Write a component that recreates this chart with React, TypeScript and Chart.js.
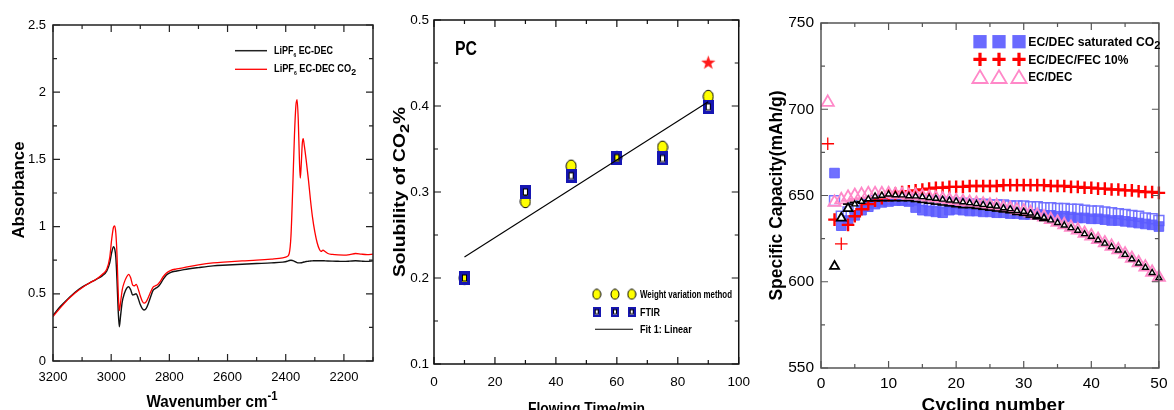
import React, { useEffect, useRef } from "react";
import { Chart, registerables } from "chart.js";

Chart.register(...registerables);

// ---------------- Panel 1: FTIR spectra ----------------
const irWavenumbers = [
  3200, 3175, 3150, 3125, 3100, 3075, 3050, 3030, 3015, 3005, 2998, 2992, 2988, 2984, 2980, 2976,
  2972, 2968, 2962, 2955, 2947, 2940, 2933, 2926, 2920, 2914, 2907, 2900, 2893, 2887, 2880, 2872,
  2864, 2856, 2848, 2840, 2832, 2822, 2810, 2795, 2775, 2750, 2700, 2650, 2600, 2550, 2500, 2450,
  2410, 2395, 2388, 2382, 2376, 2370, 2365, 2361, 2357, 2353, 2350, 2347, 2343, 2340, 2336, 2330,
  2322, 2315, 2308, 2300, 2292, 2284, 2278, 2272, 2265, 2255, 2240, 2220, 2200, 2180, 2160, 2140,
  2120, 2100,
];
const irAbsBase = [
  0.34, 0.405, 0.46, 0.51, 0.55, 0.58, 0.61, 0.635, 0.67, 0.73, 0.81, 0.85, 0.835, 0.77, 0.6, 0.38,
  0.255, 0.33, 0.44, 0.5, 0.54, 0.552, 0.53, 0.49, 0.495, 0.5, 0.465, 0.42, 0.39, 0.38, 0.39, 0.43,
  0.48, 0.525, 0.54, 0.55, 0.57, 0.605, 0.64, 0.66, 0.67, 0.68, 0.695, 0.708, 0.714, 0.72, 0.725, 0.73,
  0.736, 0.742, 0.748, 0.75, 0.747, 0.742, 0.736, 0.732, 0.73, 0.73, 0.73, 0.731, 0.733, 0.735, 0.737, 0.74,
  0.742, 0.744, 0.745, 0.746, 0.746, 0.746, 0.746, 0.746, 0.745, 0.744, 0.743, 0.742, 0.741, 0.743, 0.746, 0.743,
  0.741, 0.745,
];
const irAbsCO2 = [
  0.33, 0.395, 0.455, 0.505, 0.545, 0.58, 0.61, 0.645, 0.685, 0.77, 0.91, 0.995, 1.005, 0.95, 0.79, 0.52,
  0.375, 0.43, 0.53, 0.585, 0.625, 0.645, 0.62, 0.565, 0.56, 0.57, 0.535, 0.485, 0.445, 0.43, 0.44, 0.475,
  0.515, 0.55, 0.56, 0.57, 0.59, 0.625, 0.655, 0.675, 0.685, 0.695, 0.715, 0.73, 0.738, 0.745, 0.75, 0.758,
  0.768, 0.778, 0.8, 0.93, 1.28, 1.68, 1.9, 1.945, 1.8, 1.5, 1.36, 1.45, 1.62, 1.655, 1.6, 1.5,
  1.35, 1.2, 1.07, 0.96, 0.88, 0.83, 0.815, 0.825, 0.815, 0.8, 0.793, 0.789, 0.788, 0.792, 0.8, 0.795,
  0.792, 0.795,
];
const irXTicks = [3200, 3000, 2800, 2600, 2400, 2200];
const irXMinorTicks = [3100, 2900, 2700, 2500, 2300, 2100];
const irYTicks = [0, 0.5, 1, 1.5, 2, 2.5];
const irYMinorTicks = [0.25, 0.75, 1.25, 1.75, 2.25];

// ---------------- Panel 2: CO2 solubility in PC ----------------
const flowTimes = [10, 30, 45, 60, 75, 90];
const weightMethod = [0.2, 0.289, 0.33, 0.34, 0.352, 0.411];
const ftirValues = [0.2, 0.3, 0.319, 0.34, 0.339, 0.399];
const fitTimes = [10, 90];
const fitValues = [0.2245, 0.405];
const starTimes = [90];
const starValues = [0.451];
const flowXTicks = [0, 20, 40, 60, 80, 100];
const flowXMinorTicks = [10, 30, 50, 70, 90];
const flowYTicks = [0.1, 0.2, 0.3, 0.4, 0.5];
const flowYMinorTicks = [0.15, 0.25, 0.35, 0.45];

// ---------------- Panel 3: cycling ----------------
const cycles = [
  1, 2, 3, 4, 5, 6, 7, 8, 9, 10, 11, 12, 13, 14, 15, 16, 17, 18, 19, 20, 21, 22, 23, 24, 25,
  26, 27, 28, 29, 30, 31, 32, 33, 34, 35, 36, 37, 38, 39, 40, 41, 42, 43, 44, 45, 46, 47, 48, 49, 50,
];
const co2Filled = [
  null, 663, 632.5, 635.5, 638.5, 641.5, 643.5, 645, 646, 646.5, 647, 647, 646.5, 643, 641.5, 641, 640.5, 640, 641.5, 642,
  641.5, 641, 641, 640.5, 640.5, 640, 640, 639.5, 639.5, 639, 639, 639, 638.5, 638.5, 638, 638, 637.5, 637, 637, 636.5,
  636.5, 636, 635.5, 635.5, 635, 634.5, 634, 633.5, 633, 632,
];
const co2Open = [
  null, 647, 638, 640.5, 643, 645, 646, 647, 647.5, 648, 648, 648, 647.5, 647.5, 647, 646.5, 646.5, 646, 646, 645.5,
  645.5, 645, 645, 645, 644.5, 644.5, 644.5, 644, 644, 644, 643.5, 643.5, 643, 643, 642.5, 642.5, 642, 642, 641.5, 641,
  641, 640.5, 640, 639.5, 639, 638.5, 638, 637, 636.5, 635.5,
];
const fec10 = [
  680, 636, 622, 633, 638, 642, 645, 647, 648.5, 650, 651, 652, 652.5, 653, 653.5, 654, 654.5, 654.5, 655, 655,
  655, 655.5, 655.5, 655.5, 655.5, 655.5, 656, 656, 656, 656, 656, 656, 656, 655.5, 655.5, 655.5, 655, 655, 654.5, 654.5,
  654, 654, 653.5, 653.5, 653, 653, 652.5, 652, 652, 651.5,
];
const ecdec = [
  704, 646, 647.5, 649, 650, 650.5, 651, 651, 651, 651, 650.5, 650.5, 650, 650, 649.5, 649, 648.5, 648, 647.5, 647,
  646.5, 646, 645.5, 645, 644.5, 644, 643, 642.5, 641.5, 641, 640, 638.5, 637.5, 636, 634.5, 633, 631.5, 630, 628, 626.5,
  624.5, 622.5, 620.5, 618.5, 616, 613.5, 611, 608.5, 605.5, 602.5,
];
const ecdecRun2 = [
  null, 609, 637, 642.5, 645, 646.5, 648, 649.5, 650, 650.7, 650.3, 650.2, 649.7, 649.6, 649.2, 648.7, 648.2, 647.7, 647.2, 646.7,
  646.2, 645.7, 645.2, 644.7, 644.2, 643.7, 642.7, 642.2, 641.2, 640.7, 639.7, 638.2, 637.2, 635.7, 634.2, 632.7, 631.2, 629.7, 627.7, 626.2,
  624.2, 622.2, 620.2, 618.2, 615.7, 613.2, 610.7, 608.2, 605.2, 602.2,
];
const ecdecRun3 = [
  null, null, null, 645, 646, 646.5, 647, 647, 647, 647, 647, 647, 647, 646.5, 646, 645.5, 645, 644.5, 644, 643.5,
  643, 643, 642.5, 642, 641.5, 641, 640.5, 640, 639, 638.5, 637.5, 636.5, 635.5, null, null, null, null, null, null, null,
  null, null, null, null, null, null, null, null, null, null,
];
const cycXTicks = [0, 10, 20, 30, 40, 50];
const cycXMinorTicks = [5, 15, 25, 35, 45];
const cycYTicks = [550, 600, 650, 700, 750];
const cycYMinorTicks = [575, 625, 675, 725];

// ---------------- helpers ----------------
const SANS = '"Liberation Sans", Arial, Helvetica, sans-serif';

function fontAvailable(name: string): boolean {
  const c = document.createElement("canvas").getContext("2d")!;
  const s = "abcdefghijklmnopqrstuvwxyz0123456789";
  c.font = "20px monospace";
  const a = c.measureText(s).width;
  c.font = `20px "${name}", monospace`;
  const b = c.measureText(s).width;
  return a !== b;
}

type Part = { t: string; sub?: boolean; sup?: boolean; k?: number };

function drawRich(
  ctx: CanvasRenderingContext2D,
  parts: Part[],
  x: number,
  y: number,
  o: { size: number; bold?: boolean; width?: number; rotate?: boolean; align?: "left" | "center"; color?: string }
) {
  const fontOf = (p: Part) =>
    `${o.bold ? "bold " : ""}${(p.k ?? (p.sub || p.sup ? 0.7 : 1)) * o.size}px ${SANS}`;
  ctx.save();
  let total = 0;
  for (const p of parts) {
    ctx.font = fontOf(p);
    total += ctx.measureText(p.t).width;
  }
  const sx = o.width ? o.width / total : 1;
  ctx.translate(x, y);
  if (o.rotate) ctx.rotate(-Math.PI / 2);
  ctx.scale(sx, 1);
  let cx = (o.align ?? "center") === "center" ? -total / 2 : 0;
  ctx.fillStyle = o.color || "#000";
  ctx.textBaseline = "alphabetic";
  ctx.textAlign = "left";
  for (const p of parts) {
    ctx.font = fontOf(p);
    const dy = p.sub ? o.size * 0.25 : p.sup ? -o.size * 0.42 : 0;
    ctx.fillText(p.t, cx, dy);
    cx += ctx.measureText(p.t).width;
  }
  ctx.restore();
}

function makeEllipse(w: number, h: number) {
  const c = document.createElement("canvas");
  c.width = Math.ceil(w + 2);
  c.height = Math.ceil(h + 2);
  const g = c.getContext("2d")!;
  g.beginPath();
  g.ellipse(c.width / 2, c.height / 2, w / 2, h / 2, 0, 0, Math.PI * 2);
  g.fillStyle = "#ffff00";
  g.fill();
  g.lineWidth = 1;
  g.strokeStyle = "#000";
  g.stroke();
  return c;
}

const FTIR_BLUE = "#1616b2";
function makeFtir(w: number, h: number, tx: number, ty: number) {
  const c = document.createElement("canvas");
  c.width = w;
  c.height = h;
  const g = c.getContext("2d")!;
  g.fillStyle = FTIR_BLUE;
  g.fillRect(0, 0, w, h);
  g.clearRect(tx, ty, w - 2 * tx, h - 2 * ty);
  g.strokeStyle = "#000";
  g.lineWidth = 1;
  g.strokeRect(tx + 0.5, ty + 0.5, w - 2 * tx - 1, h - 2 * ty - 1);
  return c;
}

function makeStar(R: number, color: string) {
  const c = document.createElement("canvas");
  const s = Math.ceil(R * 2 + 2);
  c.width = s;
  c.height = s;
  const g = c.getContext("2d")!;
  const cx = s / 2;
  const cy = s / 2 + R * 0.1;
  const r = R * 0.4;
  g.beginPath();
  for (let i = 0; i < 10; i++) {
    const rad = (Math.PI / 5) * i;
    const rr = i % 2 === 0 ? R : r;
    const px = cx + Math.sin(rad) * rr;
    const py = cy - Math.cos(rad) * rr;
    if (i === 0) g.moveTo(px, py);
    else g.lineTo(px, py);
  }
  g.closePath();
  g.fillStyle = color;
  g.fill();
  return c;
}

function pts(xs: number[], ys: (number | null)[]) {
  const out: { x: number; y: number }[] = [];
  xs.forEach((x, i) => {
    const y = ys[i];
    if (y !== null && y !== undefined) out.push({ x, y });
  });
  return out;
}

const fmt = (v: any) => String(Number(Number(v).toFixed(3)));

function decor(o: {
  frameColor: string;
  frameWidth: number;
  xMajor: number[];
  xMinor: number[];
  yMajor: number[];
  yMinor: number[];
  draw: (ctx: CanvasRenderingContext2D, chart: any) => void;
}) {
  return {
    id: "decor",
    afterDatasetsDraw(chart: any) {
      const { ctx, chartArea: a, scales } = chart;
      const xs = scales.x;
      const ys = scales.y;
      ctx.save();
      ctx.strokeStyle = o.frameColor;
      ctx.lineWidth = 1.2;
      ctx.beginPath();
      const xAll = [...o.xMajor.map((v) => [v, 7]), ...o.xMinor.map((v) => [v, 4])];
      for (const [v, L] of xAll) {
        const p = xs.getPixelForValue(v);
        ctx.moveTo(p, a.bottom);
        ctx.lineTo(p, a.bottom - L);
        ctx.moveTo(p, a.top);
        ctx.lineTo(p, a.top + L);
      }
      const yAll = [...o.yMajor.map((v) => [v, 7]), ...o.yMinor.map((v) => [v, 4])];
      for (const [v, L] of yAll) {
        const p = ys.getPixelForValue(v);
        ctx.moveTo(a.left, p);
        ctx.lineTo(a.left + L, p);
        ctx.moveTo(a.right, p);
        ctx.lineTo(a.right - L, p);
      }
      ctx.stroke();
      ctx.lineWidth = o.frameWidth;
      ctx.strokeRect(a.left, a.top, a.right - a.left, a.bottom - a.top);
      ctx.restore();
      ctx.save();
      o.draw(ctx, chart);
      ctx.restore();
    },
  };
}

function axes(o: {
  xMin: number;
  xMax: number;
  yMin: number;
  yMax: number;
  xTicks: number[];
  yTicks: number[];
  reverse?: boolean;
  font: any;
  xPad: number;
  yPad: number;
  xHeight: number;
  yWidth: number;
}) {
  const common = {
    type: "linear",
    grid: { display: false, drawTicks: false },
    border: { display: false },
  };
  return {
    x: {
      ...common,
      min: o.xMin,
      max: o.xMax,
      reverse: !!o.reverse,
      afterBuildTicks: (s: any) => {
        s.ticks = o.xTicks.map((value) => ({ value }));
      },
      afterFit: (s: any) => {
        s.height = o.xHeight;
      },
      ticks: { font: o.font, color: "#000", padding: o.xPad, callback: fmt, maxRotation: 0, autoSkip: false },
    },
    y: {
      ...common,
      min: o.yMin,
      max: o.yMax,
      afterBuildTicks: (s: any) => {
        s.ticks = o.yTicks.map((value) => ({ value }));
      },
      afterFit: (s: any) => {
        s.width = o.yWidth;
      },
      ticks: { font: o.font, color: "#000", padding: o.yPad, callback: fmt, autoSkip: false },
    },
  };
}

const baseOptions = {
  responsive: false,
  animation: false,
  events: [],
  devicePixelRatio: 1,
  plugins: { legend: { display: false }, tooltip: { enabled: false } },
};

// ---------------- chart builders ----------------
function buildIR(): any {
  return {
    type: "scatter",
    data: {
      datasets: [
        {
          data: pts(irWavenumbers, irAbsCO2),
          showLine: true,
          borderColor: "#ff0000",
          borderWidth: 1.3,
          pointRadius: 0,
          cubicInterpolationMode: "monotone",
        },
        {
          data: pts(irWavenumbers, irAbsBase),
          showLine: true,
          borderColor: "#111111",
          borderWidth: 1.4,
          pointRadius: 0,
          cubicInterpolationMode: "monotone",
        },
      ],
    },
    options: {
      ...baseOptions,
      layout: { padding: { left: 0, top: 25, right: 17, bottom: 0 } },
      scales: axes({
        xMin: 2100,
        xMax: 3200,
        yMin: 0,
        yMax: 2.5,
        xTicks: irXTicks,
        yTicks: irYTicks,
        reverse: true,
        font: { family: SANS, size: 13 },
        xPad: 9,
        yPad: 7,
        xHeight: 49,
        yWidth: 53,
      }),
    },
    plugins: [
      decor({
        frameColor: "#222",
        frameWidth: 1.5,
        xMajor: irXTicks,
        xMinor: irXMinorTicks,
        yMajor: irYTicks,
        yMinor: irYMinorTicks,
        draw: (ctx) => {
          drawRich(ctx, [{ t: "Absorbance" }], 24, 190, { size: 16, bold: true, rotate: true, width: 97 });
          drawRich(ctx, [{ t: "Wavenumber cm" }, { t: "-1", sup: true, k: 0.75 }], 212, 407, {
            size: 16,
            bold: true,
            width: 131,
          });
          ctx.lineWidth = 1.5;
          ctx.strokeStyle = "#222";
          ctx.beginPath();
          ctx.moveTo(235, 50.7);
          ctx.lineTo(267, 50.7);
          ctx.stroke();
          ctx.strokeStyle = "#ff0000";
          ctx.lineWidth = 1.3;
          ctx.beginPath();
          ctx.moveTo(235, 69.3);
          ctx.lineTo(267, 69.3);
          ctx.stroke();
          drawRich(ctx, [{ t: "LiPF" }, { t: "6", sub: true, k: 0.55 }, { t: " EC-DEC" }], 274, 54.3, {
            size: 10.5,
            bold: true,
            align: "left",
            width: 59,
          });
          drawRich(
            ctx,
            [{ t: "LiPF" }, { t: "6", sub: true, k: 0.55 }, { t: " EC-DEC CO" }, { t: "2", sub: true, k: 0.95 }],
            274,
            72.3,
            { size: 10.5, bold: true, align: "left", width: 82 }
          );
        },
      }),
    ],
  };
}

function buildSolubility(): any {
  const narrow = fontAvailable("Liberation Sans Narrow");
  const tickFont = narrow
    ? { family: '"Liberation Sans Narrow", "Liberation Sans", Arial, sans-serif', size: 14 }
    : { family: SANS, size: 13.5 };
  const ellData = makeEllipse(10, 12.5);
  const ellLeg = makeEllipse(8, 10);
  const ftirData = makeFtir(11, 14, 3, 3.5);
  const ftirLeg = makeFtir(8, 10, 2, 2.5);
  const star = makeStar(7.5, "#ff1a1a");
  return {
    type: "scatter",
    data: {
      datasets: [
        {
          data: pts(fitTimes, fitValues),
          showLine: true,
          borderColor: "#000",
          borderWidth: 1.1,
          pointRadius: 0,
        },
        { data: pts(starTimes, starValues), pointStyle: star, pointRadius: 8, clip: false },
        { data: pts(flowTimes, ftirValues), pointStyle: ftirData, pointRadius: 7, clip: false },
        { data: pts(flowTimes, weightMethod), pointStyle: ellData, pointRadius: 7, clip: false },
      ],
    },
    options: {
      ...baseOptions,
      layout: { padding: { left: 0, top: 20, right: 21, bottom: 0 } },
      scales: axes({
        xMin: 0,
        xMax: 100,
        yMin: 0.1,
        yMax: 0.5,
        xTicks: flowXTicks,
        yTicks: flowYTicks,
        font: tickFont,
        xPad: 10,
        yPad: 5,
        xHeight: 46,
        yWidth: 44,
      }),
    },
    plugins: [
      decor({
        frameColor: "#111",
        frameWidth: 1.5,
        xMajor: flowXTicks,
        xMinor: flowXMinorTicks,
        yMajor: flowYTicks,
        yMinor: flowYMinorTicks,
        draw: (ctx) => {
          drawRich(ctx, [{ t: "Solubility of CO" }, { t: "2", sub: true, k: 0.85 }, { t: "%" }], 14.5, 192, {
            size: 16,
            bold: true,
            rotate: true,
            width: 170,
          });
          drawRich(ctx, [{ t: "Flowing Time/min" }], 196.5, 414, { size: 17, bold: true, width: 117 });
          drawRich(ctx, [{ t: "PC" }], 65, 55, { size: 21, bold: true, align: "left", width: 22 });
          for (const cx of [206.7, 225, 241.7]) {
            ctx.drawImage(ellLeg, cx - ellLeg.width / 2, 294.3 - ellLeg.height / 2);
            ctx.drawImage(ftirLeg, cx - ftirLeg.width / 2, 311.7 - ftirLeg.height / 2);
          }
          drawRich(ctx, [{ t: "Weight variation method" }], 250, 298.4, {
            size: 11.5,
            bold: true,
            align: "left",
            width: 92,
          });
          drawRich(ctx, [{ t: "FTIR" }], 250, 315.8, { size: 11.5, bold: true, align: "left", width: 20 });
          ctx.strokeStyle = "#000";
          ctx.lineWidth = 1.1;
          ctx.beginPath();
          ctx.moveTo(205, 329.3);
          ctx.lineTo(243, 329.3);
          ctx.stroke();
          drawRich(ctx, [{ t: "Fit 1: Linear" }], 250, 333.4, { size: 11.5, bold: true, align: "left", width: 51.7 });
        },
      }),
    ],
  };
}

function buildCycling(): any {
  const BLUE_FILL = "rgba(92,92,255,0.88)";
  const BLUE_LINE = "rgba(110,110,255,0.95)";
  const PINK = "#ff88c8";
  return {
    type: "scatter",
    data: {
      datasets: [
        {
          data: pts(cycles, ecdecRun2),
          pointStyle: "triangle",
          pointRadius: (c: any) => (c.dataIndex < 3 ? 5.2 : 3.4),
          pointBorderWidth: (c: any) => (c.dataIndex < 3 ? 1.8 : 1.4),
          pointBorderColor: "#000",
          pointBackgroundColor: "#fff",
          clip: false,
        },
        {
          data: pts(cycles, ecdecRun3),
          pointStyle: "line",
          pointRadius: 5,
          pointBorderWidth: 1.6,
          pointBorderColor: "#000",
          clip: false,
        },
        {
          data: pts(cycles, ecdec),
          pointStyle: "triangle",
          pointRadius: 7,
          pointBorderWidth: 1.8,
          pointBorderColor: PINK,
          pointBackgroundColor: "rgba(0,0,0,0)",
          clip: false,
        },
        {
          data: pts(cycles, fec10),
          pointStyle: "cross",
          pointRadius: 6.3,
          pointBorderWidth: (c: any) => (c.dataIndex === 0 || c.dataIndex === 2 ? 1.3 : 2.4),
          pointBorderColor: "#ff0000",
          clip: false,
        },
        {
          data: pts(cycles, co2Filled),
          pointStyle: "rect",
          pointRadius: 6.8,
          pointBorderWidth: 1,
          pointBorderColor: BLUE_FILL,
          pointBackgroundColor: BLUE_FILL,
          clip: false,
        },
        {
          data: pts(cycles, co2Open),
          pointStyle: "rect",
          pointRadius: 7,
          pointBorderWidth: 1.5,
          pointBorderColor: BLUE_LINE,
          pointBackgroundColor: "rgba(0,0,0,0)",
          clip: false,
        },
      ],
    },
    options: {
      ...baseOptions,
      layout: { padding: { left: 0, top: 23, right: 9, bottom: 0 } },
      scales: axes({
        xMin: 0,
        xMax: 50,
        yMin: 550,
        yMax: 750,
        xTicks: cycXTicks,
        yTicks: cycYTicks,
        font: { family: SANS, size: 15.5 },
        xPad: 6.5,
        yPad: 7,
        xHeight: 42,
        yWidth: 61,
      }),
    },
    plugins: [
      decor({
        frameColor: "#555",
        frameWidth: 1.5,
        xMajor: cycXTicks,
        xMinor: cycXMinorTicks,
        yMajor: cycYTicks,
        yMinor: cycYMinorTicks,
        draw: (ctx) => {
          drawRich(ctx, [{ t: "Specific Capacity(mAh/g)" }], 22, 195.5, {
            size: 17.5,
            bold: true,
            rotate: true,
            width: 210,
          });
          drawRich(ctx, [{ t: "Cycling number" }], 233, 410.5, { size: 19, bold: true, width: 143 });
          const xs = [220, 239, 259];
          const rows = [41.7, 59.3, 76.7];
          for (const cx of xs) {
            ctx.fillStyle = "rgba(98,98,255,0.95)";
            ctx.fillRect(cx - 6.65, rows[0] - 6.65, 13.3, 13.3);
            ctx.strokeStyle = "#ff0000";
            ctx.lineWidth = 3.2;
            ctx.beginPath();
            ctx.moveTo(cx - 6.6, rows[1]);
            ctx.lineTo(cx + 6.6, rows[1]);
            ctx.moveTo(cx, rows[1] - 6.6);
            ctx.lineTo(cx, rows[1] + 6.6);
            ctx.stroke();
            ctx.strokeStyle = PINK;
            ctx.lineWidth = 1.8;
            ctx.beginPath();
            ctx.moveTo(cx, rows[2] - 6.5);
            ctx.lineTo(cx + 7.6, rows[2] + 6.3);
            ctx.lineTo(cx - 7.6, rows[2] + 6.3);
            ctx.closePath();
            ctx.stroke();
          }
          drawRich(ctx, [{ t: "EC/DEC saturated CO" }, { t: "2", sub: true, k: 0.9 }], 268.3, rows[0] + 4.5, {
            size: 12.5,
            bold: true,
            align: "left",
            width: 132,
          });
          drawRich(ctx, [{ t: "EC/DEC/FEC 10%" }], 268.3, rows[1] + 4.5, {
            size: 12.5,
            bold: true,
            align: "left",
            width: 100,
          });
          drawRich(ctx, [{ t: "EC/DEC" }], 268.3, rows[2] + 4.5, {
            size: 12.5,
            bold: true,
            align: "left",
            width: 44,
          });
        },
      }),
    ],
  };
}

function ChartCanvas({ left, width, build }: { left: number; width: number; build: () => any }) {
  const ref = useRef<HTMLCanvasElement>(null);
  useEffect(() => {
    const chart = new Chart(ref.current!, build());
    return () => chart.destroy();
  }, [build]);
  return (
    <canvas
      ref={ref}
      width={width}
      height={410}
      style={{ position: "absolute", left, top: 0, width, height: 410, display: "block" }}
    />
  );
}

export default function App() {
  return (
    <div
      style={{
        position: "fixed",
        left: 0,
        top: 0,
        width: 1174,
        height: 410,
        background: "#fff",
        overflow: "hidden",
      }}
    >
      <ChartCanvas left={0} width={390} build={buildIR} />
      <ChartCanvas left={390} width={370} build={buildSolubility} />
      <ChartCanvas left={760} width={414} build={buildCycling} />
    </div>
  );
}
